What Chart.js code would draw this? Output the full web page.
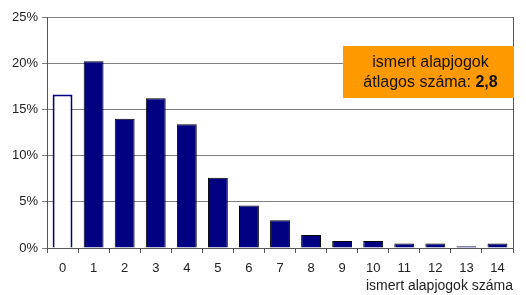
<!DOCTYPE html>
<html>
<head>
<meta charset="utf-8">
<script src="https://cdn.jsdelivr.net/npm/chart.js@4/dist/chart.umd.min.js"></script>
<style>
  html, body { margin: 0; padding: 0; background: #fff; }
  #wrap { width: 526px; height: 295px; }
</style>
</head>
<body>
<div id="wrap"><canvas id="myChart" width="526" height="295"></canvas></div>
<script>
// adatok
const categories = ['0', '1', '2', '3', '4', '5', '6', '7', '8', '9', '10', '11', '12', '13', '14'];
const shares = [16.6, 20.2, 14.0, 16.2, 13.4, 7.6, 4.6, 3.0, 1.4, 0.75, 0.75, 0.5, 0.5, 0.2, 0.5];
const yTicks = [0, 5, 10, 15, 20, 25];
const axisTitle = 'ismert alapjogok száma';
const boxLine1 = 'ismert alapjogok';
const boxLine2 = 'átlagos száma: ';
const boxValue = '2,8';

const font = 'Liberation Sans, Arial, sans-serif';

// jobb oldali keret + narancs doboz
const extras = {
  id: 'extras',
  afterDraw(chart) {
    const ctx = chart.ctx;
    const a = chart.chartArea;
    ctx.save();
    ctx.strokeStyle = '#555';
    ctx.lineWidth = 1;
    ctx.beginPath();
    ctx.moveTo(Math.round(a.right) + 0.5, a.top);
    ctx.lineTo(Math.round(a.right) + 0.5, a.bottom);
    ctx.stroke();

    const bx = 343, by = 46, bw = 171, bh = 52;
    ctx.fillStyle = '#ff9900';
    ctx.fillRect(bx, by, bw, bh);
    ctx.fillStyle = '#111';
    ctx.textBaseline = 'middle';
    ctx.textAlign = 'center';
    ctx.font = '16px ' + font;
    const cx = bx + bw / 2 + 2;
    ctx.fillText(boxLine1, cx, by + 17);
    const w1 = ctx.measureText(boxLine2).width;
    ctx.font = 'bold 16px ' + font;
    const w2 = ctx.measureText(boxValue).width;
    const start = cx - (w1 + w2) / 2;
    ctx.textAlign = 'left';
    ctx.font = '16px ' + font;
    ctx.fillText(boxLine2, start, by + 37);
    ctx.font = 'bold 16px ' + font;
    ctx.fillText(boxValue, start + w1, by + 37);
    ctx.restore();
  }
};

const ctx = document.getElementById('myChart').getContext('2d');
new Chart(ctx, {
  type: 'bar',
  data: {
    labels: categories,
    datasets: [{
      data: shares,
      backgroundColor: shares.map((v, i) => i === 0 ? '#ffffff' : '#000080'),
      borderColor: shares.map((v, i) => i === 0 ? '#000080' : '#000000'),
      borderWidth: shares.map((v, i) => i === 0 ? 2 : 1),
      barPercentage: 0.64,
      categoryPercentage: 1
    }]
  },
  options: {
    responsive: false,
    animation: false,
    layout: { padding: { left: 8, right: 13, top: 17, bottom: 0 } },
    plugins: {
      legend: { display: false },
      tooltip: { enabled: false }
    },
    scales: {
      x: {
        offset: true,
        afterFit: axis => { axis.height = 47; },
        grid: { drawOnChartArea: false, drawTicks: true, tickLength: 5, color: '#555', offset: true },
        border: { color: '#555' },
        ticks: { color: '#222', font: { family: font, size: 13 }, padding: 8 },
        title: {
          display: true, text: axisTitle, align: 'end', color: '#222',
          font: { family: font, size: 14 }, padding: { top: 0, bottom: 0 }
        }
      },
      y: {
        min: 0,
        max: 25,
        afterBuildTicks: axis => { axis.ticks = yTicks.map(v => ({ value: v })); },
        grid: { color: '#808080', tickLength: 5, drawTicks: true },
        border: { color: '#555' },
        ticks: { color: '#222', font: { family: font, size: 13 }, padding: 4, callback: v => v + '%' }
      }
    }
  },
  plugins: [extras]
});
</script>
</body>
</html>
